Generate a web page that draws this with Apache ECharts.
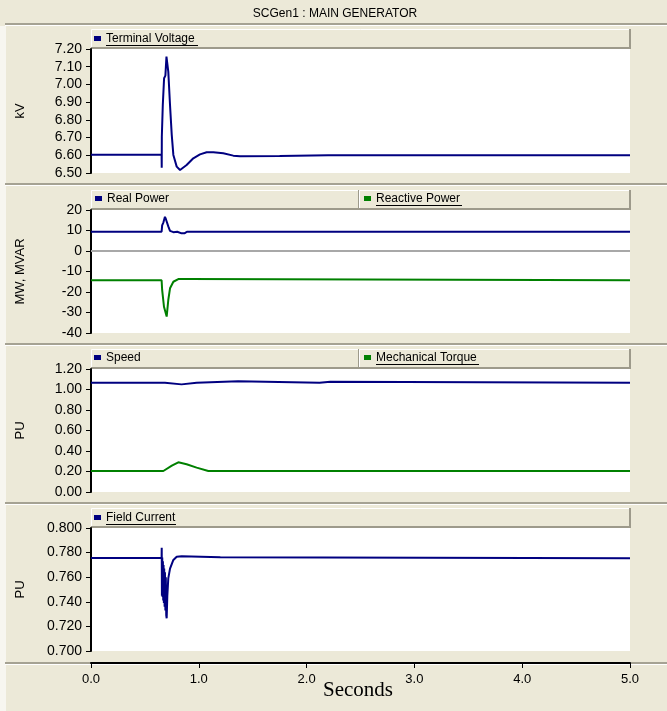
<!DOCTYPE html>
<html>
<head>
<meta charset="utf-8">
<script src="https://cdn.jsdelivr.net/npm/echarts@6/dist/echarts.min.js"></script>
<style>
  html, body { margin: 0; padding: 0; background: #ECE9D8; }
  #main { width: 667px; height: 711px; }
</style>
</head>
<body>
<div id="main"></div>
<script>
// time (s), value pairs
var terminalVoltage = [
  [0.00, 6.603], [0.655, 6.603], [0.656, 6.530], [0.657, 6.705], [0.664, 6.705],
  [0.666, 6.884], [0.676, 6.890], [0.678, 7.035], [0.690, 7.050], [0.700, 7.157],
  [0.706, 7.150], [0.717, 7.072], [0.733, 6.884], [0.749, 6.715], [0.764, 6.602],
  [0.795, 6.536], [0.826, 6.517], [0.887, 6.545], [0.949, 6.583], [1.011, 6.605],
  [1.073, 6.617], [1.135, 6.617], [1.227, 6.611], [1.320, 6.598], [1.382, 6.594],
  [1.750, 6.596], [2.200, 6.600], [5.00, 6.600]
];
var realPower = [
  [0, 9.4], [0.655, 9.4], [0.660, 12.5], [0.672, 14.0], [0.686, 16.7], [0.695, 15.5],
  [0.717, 12.0], [0.733, 9.8], [0.764, 9.2], [0.80, 9.4], [0.84, 8.6], [0.87, 8.7],
  [0.89, 9.4], [5.0, 9.4]
];
var reactivePower = [
  [0, -14.3], [0.655, -14.3], [0.660, -19.0], [0.677, -27.2], [0.702, -32.0],
  [0.717, -23.9], [0.733, -18.2], [0.764, -15.0], [0.810, -13.7], [0.903, -13.7],
  [0.918, -14.3], [5.0, -14.3]
];
var speed = [
  [0, 1.065], [0.686, 1.065], [0.69, 1.05], [0.84, 1.05], [0.845, 1.065], [0.98, 1.065],
  [0.985, 1.08], [1.365, 1.08], [1.37, 1.065], [2.12, 1.065], [2.125, 1.075],
  [2.22, 1.075], [2.225, 1.065], [5.0, 1.065]
];
var mechTorque = [
  [0, 0.205], [0.671, 0.205], [0.75, 0.257], [0.81, 0.29], [0.887, 0.27],
  [0.98, 0.238], [1.088, 0.205], [5.0, 0.205]
];
var fieldCurrent = [
  [0, 0.7757], [0.655, 0.7757], [0.656, 0.784], [0.658, 0.745], [0.661, 0.776],
  [0.664, 0.744], [0.667, 0.773], [0.670, 0.741], [0.673, 0.770], [0.676, 0.739],
  [0.679, 0.767], [0.683, 0.736], [0.686, 0.764], [0.690, 0.733], [0.694, 0.760],
  [0.698, 0.729], [0.702, 0.7266], [0.708, 0.745], [0.717, 0.759], [0.733, 0.767],
  [0.764, 0.774], [0.795, 0.7766], [0.841, 0.777], [1.2, 0.7762], [5.0, 0.7755]
];

var NAVY = '#000080', GREEN = '#008000';
var sans = '"Liberation Sans", Arial, sans-serif';

var panels = [
  { top: 49, height: 124, min: 6.5, max: 7.2, step: 0.1, dec: 2, name: 'kV' },
  { top: 210, height: 123, min: -40, max: 20, step: 10, dec: 0, name: 'MW, MVAR' },
  { top: 369, height: 123, min: 0, max: 1.2, step: 0.2, dec: 2, name: 'PU' },
  { top: 528, height: 123, min: 0.7, max: 0.8, step: 0.02, dec: 3, name: 'PU' }
];

var grids = [], xAxes = [], yAxes = [], gfx = [];

// white strip on the left edge and separator lines
gfx.push({ type: 'rect', shape: { x: 0, y: 26, width: 6, height: 685 }, style: { fill: '#F7F6F0' } });
var seps = [24, 184, 344, 503, 663];
seps.forEach(function (y) {
  gfx.push({ type: 'line', shape: { x1: 5, y1: y, x2: 667, y2: y }, style: { stroke: '#A5A293', lineWidth: 2 } });
  gfx.push({ type: 'line', shape: { x1: 5, y1: y + 1.5, x2: 667, y2: y + 1.5 }, style: { stroke: '#FFFFFF', lineWidth: 1 } });
});

function legendBar(y, x1, x2) {
  gfx.push({ type: 'rect', shape: { x: x1, y: y, width: x2 - x1, height: 19 }, style: { fill: '#ECE9D8' } });
  gfx.push({ type: 'polyline', shape: { points: [[x1 + 0.5, y + 19], [x1 + 0.5, y + 0.5], [x2, y + 0.5]] }, style: { stroke: '#FFFFFF', lineWidth: 1, fill: null } });
  gfx.push({ type: 'polyline', shape: { points: [[x1, y + 19], [x2, y + 19], [x2, y]] }, style: { stroke: '#9D9A8B', lineWidth: 2, fill: null } });
}
function legendItem(x, y, color, text, underline, width) {
  gfx.push({ type: 'rect', shape: { x: x, y: y + 7, width: 7, height: 5 }, style: { fill: color } });
  gfx.push({ type: 'text', x: x + 12, y: y + 10, style: { text: text, fill: '#000', font: '12px ' + sans, textVerticalAlign: 'middle' } });
  if (underline) {
    gfx.push({ type: 'line', shape: { x1: x + 12, y1: y + 16.5, x2: x + 12 + width, y2: y + 16.5 }, style: { stroke: '#000', lineWidth: 1 } });
  }
}

panels.forEach(function (p, i) {
  grids.push({ left: 91, right: 37, top: p.top, height: p.height, show: true, backgroundColor: '#FFFFFF', borderWidth: 0 });
  var last = i === panels.length - 1;
  xAxes.push({
    type: 'value', gridIndex: i, min: 0, max: 5, interval: 1, show: last, offset: last ? 12 : 0,
    axisLine: { show: true, lineStyle: { color: '#000', width: 2 } },
    axisTick: { show: true, inside: false, length: 5, lineStyle: { color: '#000' } },
    axisLabel: { color: '#000', fontSize: 13, fontFamily: sans, margin: 10, formatter: function (v) { return v.toFixed(1); } },
    splitLine: { show: false }
  });
  yAxes.push({
    type: 'value', gridIndex: i, min: p.min, max: p.max, interval: p.step,
    name: p.name, nameLocation: 'middle', nameGap: 64, nameRotate: 90,
    nameTextStyle: { color: '#000', fontSize: 13, fontFamily: sans },
    axisLine: { show: true, lineStyle: { color: '#000', width: 2 } },
    axisTick: { show: true, inside: false, length: 5, lineStyle: { color: '#000' } },
    axisLabel: { color: '#000', fontSize: 14, fontFamily: sans, margin: 9,
      formatter: (function (d) { return function (v) { return v.toFixed(d); }; })(p.dec) },
    splitLine: { show: false }
  });
  var ly = p.top - 20;
  if (i === 1 || i === 2) {
    legendBar(ly, 91, 359);
    legendBar(ly, 359, 630);
  } else {
    legendBar(ly, 91, 630);
  }
});

legendItem(94, 29, NAVY, 'Terminal Voltage', true, 92);
legendItem(95, 189, NAVY, 'Real Power', false, 0);
legendItem(364, 189, GREEN, 'Reactive Power', true, 86);
legendItem(94, 348, NAVY, 'Speed', false, 0);
legendItem(364, 348, GREEN, 'Mechanical Torque', true, 103);
legendItem(94, 508, NAVY, 'Field Current', true, 70);

gfx.push({ type: 'text', x: 335, y: 14, style: { text: 'SCGen1 : MAIN GENERATOR', fill: '#000', font: '12px ' + sans, textAlign: 'center', textVerticalAlign: 'middle' } });
gfx.push({ type: 'text', x: 358, y: 690, style: { text: 'Seconds', fill: '#000', font: '21px "Liberation Serif", "Times New Roman", serif', textAlign: 'center', textVerticalAlign: 'middle' } });

function line(name, data, color, idx, extra) {
  var s = {
    name: name, type: 'line', xAxisIndex: idx, yAxisIndex: idx, data: data,
    showSymbol: false, symbol: 'none', animation: false,
    lineStyle: { color: color, width: 2 }
  };
  return Object.assign(s, extra || {});
}

var myChart = echarts.init(document.getElementById('main'));
myChart.setOption({
  animation: false,
  grid: grids,
  xAxis: xAxes,
  yAxis: yAxes,
  graphic: { elements: gfx },
  series: [
    line('Terminal Voltage', terminalVoltage, NAVY, 0),
    line('Real Power', realPower, NAVY, 1, {
      markLine: { silent: true, symbol: 'none', label: { show: false },
        lineStyle: { color: '#A8A8A8', width: 2, type: 'solid' }, data: [{ yAxis: 0 }] },
      z: 3
    }),
    line('Reactive Power', reactivePower, GREEN, 1),
    line('Speed', speed, NAVY, 2),
    line('Mechanical Torque', mechTorque, GREEN, 2),
    line('Field Current', fieldCurrent, NAVY, 3)
  ]
});
</script>
</body>
</html>
